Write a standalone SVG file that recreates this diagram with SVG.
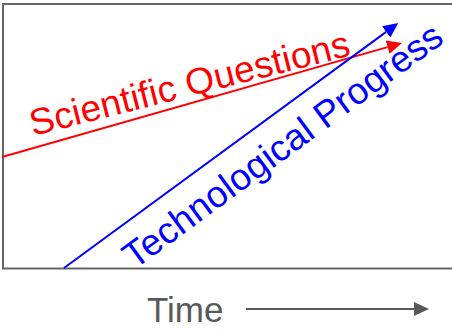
<svg xmlns="http://www.w3.org/2000/svg" width="452" height="331" viewBox="0 0 452 331">
  <style>
    .lbl { font-family: "Liberation Sans", Arial, sans-serif; }
    .frame { fill: none; stroke: #666666; stroke-width: 2; }
  </style>
  <defs>
    <marker id="ahRed" markerUnits="userSpaceOnUse" markerWidth="15" markerHeight="14" refX="0" refY="7" orient="auto">
      <path d="M0,0 L15,7 L0,14 z" fill="#FF0000"/>
    </marker>
    <marker id="ahBlue" markerUnits="userSpaceOnUse" markerWidth="15" markerHeight="14" refX="0" refY="7" orient="auto">
      <path d="M0,0 L15,7 L0,14 z" fill="#0000FF"/>
    </marker>
    <marker id="ahGray" markerUnits="userSpaceOnUse" markerWidth="15" markerHeight="14" refX="0" refY="7" orient="auto">
      <path d="M0,0 L15,7 L0,14 z" fill="#595959"/>
    </marker>
  </defs>
  <rect id="frame" class="frame" x="3" y="4" width="470" height="264.5"/>
  <g id="connectors">
    <line x1="2" y1="157" x2="387.6" y2="47.1" stroke="#FF0000" stroke-width="2" marker-end="url(#ahRed)"/>
    <line x1="64" y1="268" x2="386.2" y2="31.9" stroke="#0000FF" stroke-width="2" marker-end="url(#ahBlue)"/>
    <line x1="246" y1="309" x2="414" y2="309" stroke="#595959" stroke-width="2" marker-end="url(#ahGray)"/>
  </g>
  <g id="scientific">
    <text class="lbl" x="0" y="0" transform="translate(33,136) rotate(-14.2)" font-size="37" fill="#FF0000" textLength="329" lengthAdjust="spacing">Scientific Questions</text>
  </g>
  <g id="technological">
    <text class="lbl" x="0" y="0" transform="translate(134.5,270) rotate(-36.3)" font-size="37" fill="#0000FF" textLength="386" lengthAdjust="spacing">Technological Progress</text>
  </g>
  <g id="time">
    <text class="lbl" x="147" y="322" font-size="35" fill="#595959">Time</text>
  </g>
</svg>
